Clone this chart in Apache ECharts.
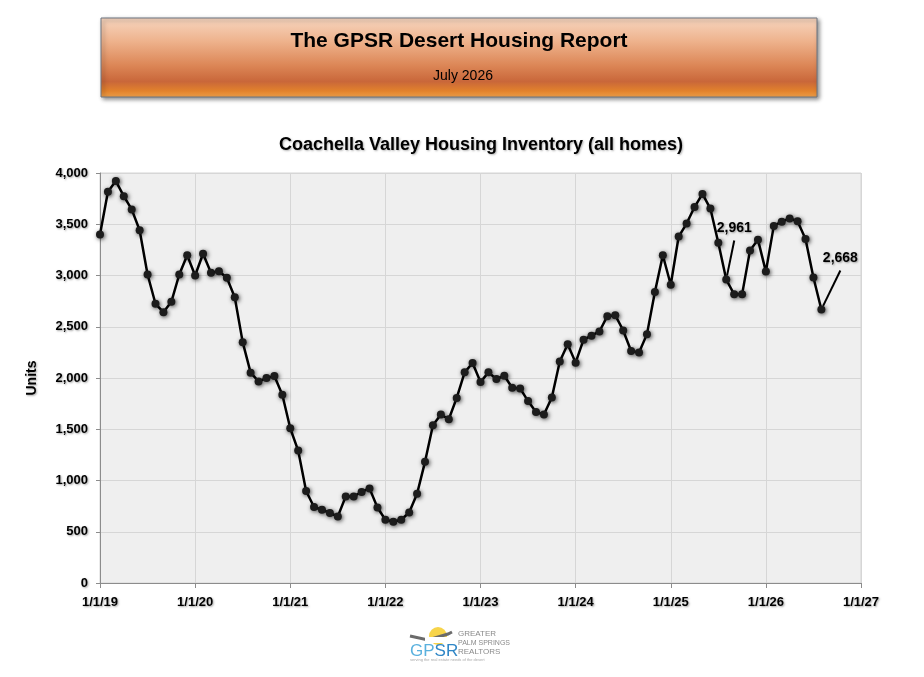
<!doctype html>
<html>
<head>
    <title>Coachella Valley Housing Inventory</title>
    <script src="https://cdn.jsdelivr.net/npm/echarts@6/dist/echarts.min.js"></script>
</head>
<style>
    html, body { margin: 0; padding: 0; background: #fff; }
    #chart { width: 924px; height: 677px; }
</style>
<body>
<div id="chart"></div>
<script>
  // monthly inventory, one array per year
  var inv2019 = [3400, 3817, 3921, 3774, 3645, 3442, 3010, 2724, 2642, 2743, 3010, 3198];
  var inv2020 = [3000, 3212, 3026, 3042, 2978, 2788, 2350, 2052, 1967, 1999, 2019, 1837];
  var inv2021 = [1510, 1292, 898, 741, 715, 683, 649, 845, 845, 888, 923, 737];
  var inv2022 = [617, 598, 617, 688, 871, 1182, 1539, 1644, 1598, 1806, 2055, 2146];
  var inv2023 = [1960, 2055, 1990, 2022, 1905, 1898, 1775, 1668, 1644, 1810, 2161, 2330];
  var inv2024 = [2150, 2374, 2413, 2454, 2603, 2612, 2464, 2263, 2248, 2428, 2839, 3198];
  var inv2025 = [2910, 3380, 3507, 3668, 3796, 3653, 3319, 2961, 2816, 2816, 3245, 3350];
  var inv2026 = [3038, 3484, 3525, 3557, 3529, 3357, 2981, 2668];

  var tickLabels = ['1/1/19', '1/1/20', '1/1/21', '1/1/22', '1/1/23', '1/1/24', '1/1/25', '1/1/26', '1/1/27'];
  var calloutIdx = [79, 91]; // points that carry a value label

  var inventory = [].concat(inv2019, inv2020, inv2021, inv2022, inv2023, inv2024, inv2025, inv2026);
  var seriesData = inventory.map(function (v, i) {
    var item = { value: [i, v] };
    if (calloutIdx.indexOf(i) >= 0) {
      item.label = { show: true };
    }
    return item;
  });

  var FONT = 'Arial, "Liberation Sans", sans-serif';
  var labelShadow = { textShadowColor: 'rgba(0,0,0,0.35)', textShadowBlur: 2, textShadowOffsetX: 1, textShadowOffsetY: 1 };

  var myChart = echarts.init(document.getElementById('chart'));
  var option = {
    backgroundColor: '#fff',
    animation: false,
    grid: {
      left: 100, right: 63, top: 173, bottom: 94,
      show: true,
      backgroundColor: '#efefef',
      borderColor: '#d4d4d4',
      borderWidth: 1
    },
    xAxis: {
      type: 'value',
      min: 0, max: 96, interval: 12,
      axisLine: { show: true, lineStyle: { color: '#8c8c8c', width: 1 } },
      axisTick: { show: true, length: 5, lineStyle: { color: '#8c8c8c' } },
      splitLine: { show: true, lineStyle: { color: '#d6d6d6' } },
      axisLabel: Object.assign({
        margin: 8,
        fontFamily: FONT, fontWeight: 'bold', fontSize: 13, color: '#000',
        formatter: function (v) { return tickLabels[v / 12]; }
      }, labelShadow)
    },
    yAxis: {
      type: 'value',
      min: 0, max: 4000, interval: 500,
      name: 'Units',
      nameLocation: 'middle',
      nameGap: 54,
      nameTextStyle: Object.assign({ fontFamily: FONT, fontWeight: 'bold', fontSize: 14, color: '#000' }, labelShadow),
      axisLine: { show: true, lineStyle: { color: '#8c8c8c', width: 1 } },
      axisTick: { show: true, length: 4, lineStyle: { color: '#8c8c8c' } },
      splitLine: { show: true, lineStyle: { color: '#d6d6d6' } },
      axisLabel: Object.assign({
        margin: 12,
        fontFamily: FONT, fontWeight: 'bold', fontSize: 13, color: '#000',
        formatter: function (v) { return v.toLocaleString('en-US'); }
      }, labelShadow)
    },
    series: [{
      type: 'line',
      data: seriesData,
      symbol: 'circle',
      symbolSize: 8,
      lineStyle: { color: '#000', width: 2.5 },
      itemStyle: { color: '#1c1c1c', shadowBlur: 4, shadowColor: 'rgba(0,0,0,0.7)', shadowOffsetX: 1, shadowOffsetY: 1 },
      label: Object.assign({
        show: false,
        position: 'top',
        fontFamily: FONT, fontWeight: 'bold', fontSize: 14, color: '#000',
        formatter: function (p) { return p.value[1].toLocaleString('en-US'); }
      }, labelShadow),
      labelLayout: function (p) {
        if (p.dataIndex === 79) return { dx: 8, dy: -30 };
        if (p.dataIndex === 91) return { dx: 19, dy: -30 };
        return {};
      },
      labelLine: { show: true, lineStyle: { color: '#000', width: 2 } },
      emphasis: { disabled: true }
    }],
    graphic: [
      {
        type: 'rect',
        shape: { x: 101, y: 18, width: 716, height: 79 },
        style: {
          fill: new echarts.graphic.LinearGradient(0, 0, 0, 1, [
            { offset: 0, color: '#f7d6c0' },
            { offset: 0.3, color: '#eeb28c' },
            { offset: 0.6, color: '#dc8656' },
            { offset: 0.8, color: '#c9673a' },
            { offset: 0.92, color: '#e2822c' },
            { offset: 1, color: '#f0a14a' }
          ]),
          stroke: '#6d7580',
          lineWidth: 1,
          shadowBlur: 4,
          shadowOffsetX: 2,
          shadowOffsetY: 2,
          shadowColor: 'rgba(0,0,0,0.45)'
        }
      },
      {
        type: 'text',
        x: 459, y: 41,
        style: {
          text: 'The GPSR Desert Housing Report',
          font: 'bold 21px ' + FONT,
          fill: '#000',
          textAlign: 'center',
          textVerticalAlign: 'middle'
        }
      },
      {
        type: 'text',
        x: 463, y: 76,
        style: {
          text: 'July 2026',
          font: '14px ' + FONT,
          fill: '#000',
          textAlign: 'center',
          textVerticalAlign: 'middle'
        }
      },
      {
        type: 'text',
        x: 481, y: 145,
        style: {
          text: 'Coachella Valley Housing Inventory (all homes)',
          font: 'bold 18px ' + FONT,
          fill: '#000',
          textAlign: 'center',
          textVerticalAlign: 'middle',
          textShadowColor: 'rgba(0,0,0,0.3)', textShadowBlur: 2, textShadowOffsetX: 1, textShadowOffsetY: 1
        }
      },
      // logo
      {
        type: 'circle',
        shape: { cx: 438, cy: 636, r: 9 },
        style: { fill: '#f7d44a' }
      },
      {
        type: 'polyline',
        shape: { points: [[410, 636], [428, 640], [448, 634], [452, 632]] },
        style: { stroke: '#6b6b6b', lineWidth: 3, fill: null }
      },
      {
        type: 'rect',
        shape: { x: 425, y: 637, width: 28, height: 6 },
        style: { fill: '#fff' }
      },
      {
        type: 'text',
        x: 410, y: 651,
        style: {
          text: '{a|GP}{b|SR}',
          rich: {
            a: { font: '17px ' + FONT, fill: '#5ab1de', color: '#5ab1de' },
            b: { font: '17px ' + FONT, fill: '#2f86c6', color: '#2f86c6' }
          },
          textVerticalAlign: 'middle'
        }
      },
      {
        type: 'text',
        x: 458, y: 634,
        style: { text: 'GREATER', font: '8px ' + FONT, fill: '#8a8a8a', textVerticalAlign: 'middle' }
      },
      {
        type: 'text',
        x: 458, y: 643,
        style: { text: 'PALM SPRINGS', font: '7px ' + FONT, fill: '#8a8a8a', textVerticalAlign: 'middle' }
      },
      {
        type: 'text',
        x: 458, y: 652,
        style: { text: 'REALTORS', font: '8px ' + FONT, fill: '#8a8a8a', textVerticalAlign: 'middle' }
      },
      {
        type: 'text',
        x: 410, y: 660,
        style: { text: 'serving the real estate needs of the desert', font: '4px ' + FONT, fill: '#aaaaaa', textVerticalAlign: 'middle' }
      }
    ]
  };

  myChart.setOption(option);
</script>
</body>
</html>
